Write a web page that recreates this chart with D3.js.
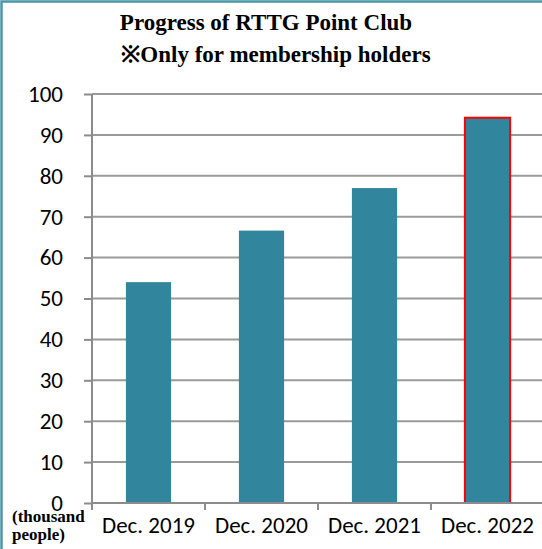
<!DOCTYPE html>
<html>
<head>
<meta charset="utf-8">
<script src="https://cdn.jsdelivr.net/npm/d3@7"></script>
<style>
  body { margin: 0; background: #fff; }
  svg { display: block; }
</style>
</head>
<body>
<svg id="chart" width="542" height="549"></svg>
<script>
// chart data
const categories = ['Dec. 2019', 'Dec. 2020', 'Dec. 2021', 'Dec. 2022'];
const members = [54, 66.6, 77, 94.2];
const yTicks = [0, 10, 20, 30, 40, 50, 60, 70, 80, 90, 100];
const titleLines = ['Progress of RTTG Point Club', '\u203BOnly for membership holders'];
const unitLines = ['(thousand', 'people)'];
const highlight = 'Dec. 2022';

const width = 542;
const height = 549;
const margin = { top: 94, right: -2, bottom: 46, left: 92 };
const innerWidth = width - margin.left - margin.right;
const innerHeight = height - margin.top - margin.bottom;

const svg = d3.select('#chart');

// left + top frame (picture is cropped on the other sides)
svg.append('path')
  .attr('d', `M1.5,${height} V1.5 H${width}`)
  .attr('fill', 'none')
  .attr('stroke', '#4a97a8')
  .attr('stroke-width', 2.5);

// title
svg.append('g')
  .selectAll('text')
  .data(titleLines)
  .enter()
  .append('text')
  .attr('x', (d, i) => i === 0 ? 266 : 276)
  .attr('y', (d, i) => 30 + i * 32)
  .attr('text-anchor', 'middle')
  .style('font-family', '"Liberation Serif", "Times New Roman", serif')
  .style('font-weight', 'bold')
  .style('font-size', '23px')
  .text(d => d);

// scales
const x = d3.scaleBand()
  .domain(categories)
  .range([0, innerWidth])
  .paddingInner(0.6)
  .paddingOuter(0.3);

const xTicks = d3.scaleBand()
  .domain(categories)
  .range([0, innerWidth]);

const y = d3.scaleLinear()
  .domain([0, 100])
  .range([innerHeight, 0]);

const g = svg.append('g')
  .attr('transform', `translate(${margin.left},${margin.top})`);

// gridlines
g.append('g')
  .selectAll('line')
  .data(yTicks.filter(d => d > 0))
  .enter()
  .append('line')
  .attr('x1', 0)
  .attr('x2', innerWidth)
  .attr('y1', d => y(d))
  .attr('y2', d => y(d))
  .attr('stroke', '#9a9a9a')
  .attr('stroke-width', 2);

// y axis
const yAxis = d3.axisLeft(y).tickValues(yTicks).tickSize(8).tickPadding(21);
const yg = g.append('g').call(yAxis)
  .attr('font-size', 23)
  .attr('font-family', 'Carlito, Calibri, "Open Sans", sans-serif');
yg.select('.domain').remove();
yg.selectAll('.tick line').attr('stroke', '#8c8c8c').attr('stroke-width', 2);
yg.selectAll('.tick text').attr('fill', '#000');

// y axis line extends a bit below x axis
g.append('line')
  .attr('x1', 0).attr('x2', 0)
  .attr('y1', 0).attr('y2', innerHeight + 7)
  .attr('stroke', '#8c8c8c')
  .attr('stroke-width', 2);

// bars
g.selectAll('.bar')
  .data(members)
  .enter()
  .append('rect')
  .attr('class', 'bar')
  .attr('x', (d, i) => x(categories[i]))
  .attr('y', d => y(d))
  .attr('width', x.bandwidth())
  .attr('height', d => innerHeight - y(d))
  .attr('fill', '#31859c')
  .attr('stroke', (d, i) => categories[i] === highlight ? '#ff0000' : 'none')
  .attr('stroke-width', 2);

// x axis
g.append('line')
  .attr('x1', 0).attr('x2', innerWidth)
  .attr('y1', innerHeight).attr('y2', innerHeight)
  .attr('stroke', '#8c8c8c')
  .attr('stroke-width', 2);

g.append('g')
  .selectAll('line')
  .data(categories.slice(1))
  .enter()
  .append('line')
  .attr('x1', d => xTicks(d))
  .attr('x2', d => xTicks(d))
  .attr('y1', innerHeight)
  .attr('y2', innerHeight + 7)
  .attr('stroke', '#8c8c8c')
  .attr('stroke-width', 2);

g.append('g')
  .selectAll('text')
  .data(categories)
  .enter()
  .append('text')
  .attr('x', d => xTicks(d) + xTicks.bandwidth() / 2)
  .attr('y', innerHeight + 30)
  .attr('text-anchor', 'middle')
  .style('font-family', 'Carlito, Calibri, "Open Sans", sans-serif')
  .style('font-size', '23px')
  .text(d => d);

// unit label
svg.append('g')
  .selectAll('text')
  .data(unitLines)
  .enter()
  .append('text')
  .attr('x', 12)
  .attr('y', (d, i) => 522 + i * 18)
  .style('font-family', '"Liberation Serif", "Times New Roman", serif')
  .style('font-weight', 'bold')
  .style('font-size', '17px')
  .text(d => d);
</script>
</body>
</html>
